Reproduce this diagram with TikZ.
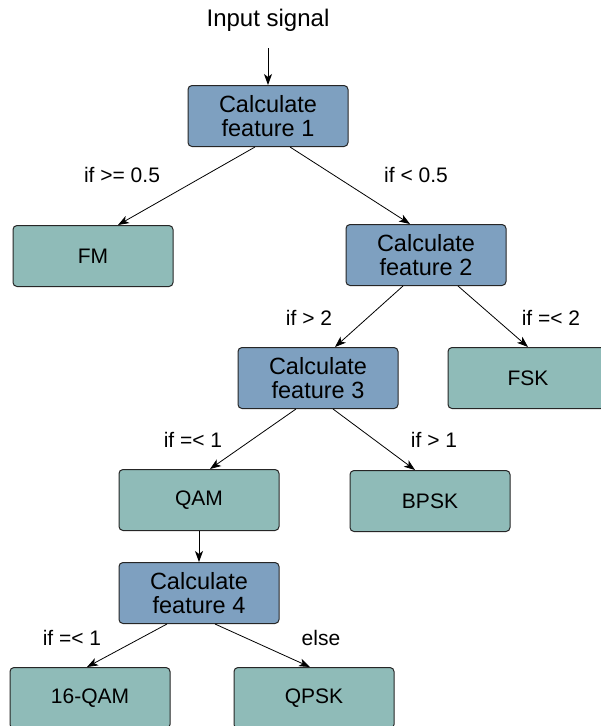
\documentclass[tikz,border=0pt]{standalone}
\usepackage{fontspec}
\setmainfont{Liberation Sans}
\usetikzlibrary{arrows.meta}
\definecolor{featblue}{RGB}{126,160,192}
\definecolor{leafteal}{RGB}{143,187,184}
\begin{document}
\begin{tikzpicture}[x=1pt,y=-1pt,
  box/.style={draw=black!85, line width=1pt, rounded corners=4pt,
    minimum width=160pt, minimum height=61pt, inner sep=0pt, align=center},
  feat/.style={box, fill=featblue, font=\fontsize{23.5}{24.5}\selectfont},
  leaf/.style={box, fill=leafteal, font=\fontsize{21}{23}\selectfont},
  lbl/.style={font=\fontsize{21}{23}\selectfont, inner sep=0pt},
  arr/.style={-{Stealth[length=11pt,width=8pt,inset=3pt]}, line width=0.8pt}
]
\useasboundingbox (0,0) rectangle (601,726);

% input label
\node[font=\fontsize{24}{26}\selectfont, inner sep=0pt] (inp) at (268,20) {Input signal};

% decision nodes
\node[feat] (f1) at (268,116) {Calculate\\feature 1};
\node[feat] (f2) at (426,255) {Calculate\\feature 2};
\node[feat] (f3) at (318,378) {Calculate\\feature 3};
\node[feat] (f4) at (199,593) {Calculate\\feature 4};

% class nodes
\node[leaf] (fm)   at (93,256)  {FM};
\node[leaf] (fsk)  at (528,378) {FSK};
\node[leaf] (qam)  at (199,500) {QAM};
\node[leaf] (bpsk) at (430,501) {BPSK};
\node[leaf] (q16)  at (90,698)  {16-QAM};
\node[leaf] (qpsk) at (314,698) {QPSK};

% connectors
\draw[arr] ([yshift=-17pt]inp.south) -- (f1.north);
\draw[arr] ([xshift=-13pt]f1.south) -- ([xshift=25pt]fm.north);
\draw[arr] ([xshift=22pt]f1.south) -- ([xshift=-16pt]f2.north);
\draw[arr] ([xshift=-23pt]f2.south) -- ([xshift=17pt]f3.north);
\draw[arr] ([xshift=32pt]f2.south) -- (fsk.north);
\draw[arr] ([xshift=-22pt]f3.south) -- ([xshift=11pt]qam.north);
\draw[arr] ([xshift=15pt]f3.south) -- ([xshift=-15pt]bpsk.north);
\draw[arr] (qam.south) -- (f4.north);
\draw[arr] ([xshift=-32pt]f4.south) -- ([xshift=-3pt]q16.north);
\draw[arr] ([xshift=16pt]f4.south) -- ([xshift=-4pt]qpsk.north);

% branch conditions
\node[lbl] (c1) at (122,175) {if >= 0.5};
\node[lbl] (c2) at (416,175) {if < 0.5};
\node[lbl] (c3) at (309,318) {if > 2};
\node[lbl] (c4) at (551,318) {if =< 2};
\node[lbl] (c5) at (193,440) {if =< 1};
\node[lbl] (c6) at (434,440) {if > 1};
\node[lbl] (c7) at (72,638)  {if =< 1};
\node[lbl] (c8) at (321,638) {else};
\end{tikzpicture}
\end{document}
